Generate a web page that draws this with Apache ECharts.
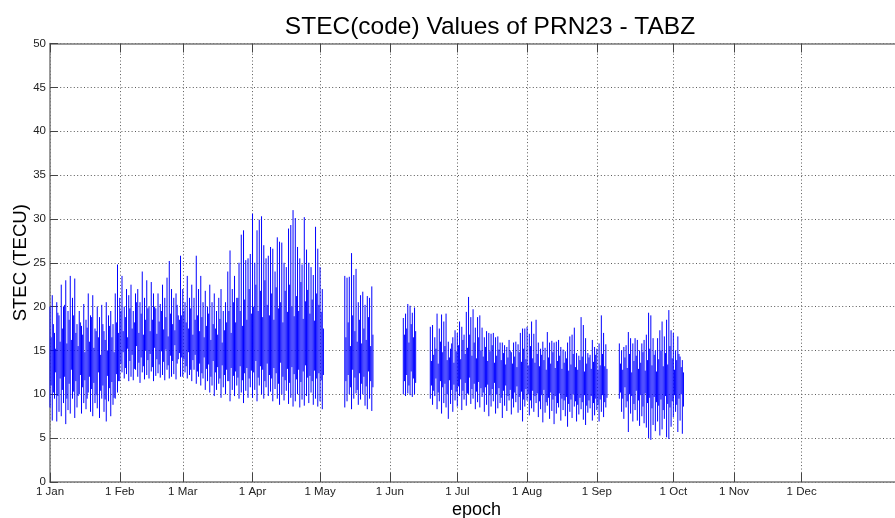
<!DOCTYPE html>
<html>
<head>
<meta charset="utf-8">
<script src="https://cdn.jsdelivr.net/npm/echarts@6/dist/echarts.min.js"></script>
<style>
html,body{margin:0;padding:0;background:#fff;}
#chart{width:895px;height:518px;}
</style>
</head>
<body>
<div id="chart"></div>
<script>
// Month tick positions (epoch, in days from 1 Jan) and labels
const tickEpochs = [0, 31, 59, 90, 120, 151, 181, 212, 243, 277, 304, 334];
const tickLabels = ['1 Jan','1 Feb','1 Mar','1 Apr','1 May','1 Jun','1 Jul','1 Aug','1 Sep','1 Oct','1 Nov','1 Dec'];
const yTicks = [0,5,10,15,20,25,30,35,40,45,50];

// Observation blocks: first day of each block
const blockStarts = [0, 131, 157, 169, 253];

// ---- Block 1: 1 Jan - 1 May (TECU) ----
// main daily pass: maximum / minimum
const highs1 = [
  20, 21.3, 17, 20.5, 19, 22.5, 20, 23, 19.5, 23.5, 21, 23.2, 18, 19.5, 17.8, 20.3, 18.5, 21.5, 19, 21.3,
  17.5, 20, 18.8, 20.2, 17.2, 20.5, 19, 19.5, 18, 21.5, 24.8,
  21, 23.5, 20, 22, 21.3, 22.5, 19.5, 21.5, 22, 20.5, 24, 21, 23, 20, 22.8, 21.5, 19.8, 21.5, 20.3, 22.5,
  21, 23.3, 25.2, 22, 21, 21.5, 19, 25.8,
  22, 20.5, 23.5, 21, 22.5, 21, 25.8, 22, 23.5, 20.5, 21.8, 20, 22.5, 20.5, 21.5, 19.5, 21, 22, 19.5, 20.5,
  24, 26.4, 22, 23.5, 21, 25, 28.2, 28.7, 25.3, 25.5, 26,
  30.6, 25, 28.7, 29.9, 30.3, 27, 25.5, 25.8, 26.8, 26.6, 24, 27.9, 27.4, 27.3, 25, 24.5, 28.9, 29.3, 31, 30.1,
  26.8, 25.5, 24.8, 30.2, 26.5, 25, 24.5, 23.6, 29.1, 26.6, 24.5, 22
];
const lows1 = [
  8.5, 7, 9.5, 6.9, 8, 7.5, 9, 6.6, 8.2, 7.8, 9.5, 7.3, 8.5, 10, 7.8, 9, 8.3, 10.2, 8, 7.5,
  9, 8.4, 7.3, 9.5, 8, 6.9, 9.2, 7.5, 8.8, 9.5, 10.2,
  11.5, 12.5, 11.8, 12.3, 11.5, 12, 11.6, 12.8, 12, 11.3, 12.5, 11.7, 12.2, 11.8, 12.6, 11.5, 12.1, 12.4, 11.9, 12.2,
  11.6, 12.8, 11.8, 12, 12.3, 11.7, 14, 12,
  12, 12.5, 11.8, 12.2, 11.5, 12.8, 11.2, 12, 11, 11.8, 10.5, 11.5, 10.2, 11, 9.8, 10.5, 11.2, 9.6, 10.8, 10,
  11.5, 9.2, 10.5, 9.8, 11, 9.5, 10.2, 9, 10.4, 9.6, 10.8,
  9.6, 10.5, 9.2, 11, 10, 9.5, 10.8, 9.8, 10.3, 9.2, 10.6, 9.5, 8.8, 10, 9.3, 10.4, 8.9, 9.6, 8.6, 9.2,
  10, 8.5, 9.4, 8.7, 9.8, 9, 10.2, 8.8, 9.5, 8.6, 9.2, 8.3
];
// secondary daily pass: maximum / minimum
const highs1b = [
  16.5, 18, 15.2, 19.3, 16, 17.5, 20.2, 15.8, 18.5, 16.2, 19, 17, 15.5, 18.2, 16.8, 14.8, 17.6, 16, 18.8, 15.3,
  17.2, 16.5, 14.5, 18, 16.2, 15, 17.8, 16.5, 14.8, 18.2, 17,
  19.5, 17.2, 18.8, 16.5, 19.8, 17.5, 18.2, 20.5, 17, 19.2, 16.8, 18.5, 19.8, 17.2, 18.5, 20, 16.9, 18.3, 19.5, 17.4,
  18.8, 16.6, 19.2, 18, 17.3, 20.2, 18.5, 19,
  19.5, 18.2, 17.5, 19.8, 16.8, 18.5, 19, 17.2, 18.8, 16.5, 17.8, 19.2, 16.2, 18, 17.5, 16.8, 18.6, 15.9, 17.3, 18.2,
  19.5, 17, 20.5, 18.2, 21, 19.5, 17.8, 20.8, 18.5, 22, 19.2,
  20, 22.5, 19.5, 21.8, 18.8, 23, 20.2, 19, 21.5, 18.5, 22.2, 19.8, 20.5, 18.2, 21.8, 19.4, 22.5, 20, 18.9, 21.2,
  19.5, 22.8, 18.6, 20.6, 21.9, 19.2, 20.8, 18.4, 21.5, 20.2, 19.4, 17.5
];
const lows1b = [
  11, 10.2, 12.5, 9.8, 11.8, 10.5, 12, 9.5, 11.2, 12.8, 10.3, 11.5, 9.8, 12.2, 10.8, 11.6, 9.5, 12, 10.6, 11.3,
  9.9, 12.5, 10.4, 11, 9.4, 12.1, 10.7, 11.4, 9.6, 12.3, 11.5,
  13.5, 14.8, 13, 15.2, 13.8, 14.5, 12.9, 15.5, 13.6, 14.2, 13.2, 15, 13.9, 14.6, 13.1, 15.3, 14, 13.4, 14.9, 13.7,
  15.1, 13.3, 14.4, 13.8, 15.6, 13.5, 14.7, 14.2,
  14, 13.2, 14.8, 12.8, 13.9, 14.5, 12.6, 13.5, 12.4, 14.2, 12.9, 13.4, 12, 13.8, 12.5, 13.1, 11.8, 13.3, 12.2, 12.8,
  11.5, 13, 12.1, 12.6, 11.9, 13.2, 11.6, 12.4, 13, 11.8, 12.7,
  12.5, 13.8, 11.9, 13.2, 12.8, 11.5, 13.5, 12.2, 11.8, 13, 12.4, 11.2, 13.6, 12, 11.6, 12.9, 11.3, 13.1, 12.3, 11.7,
  12.8, 11.4, 12.6, 13.3, 11.9, 12.1, 11.5, 12.7, 11.8, 12.4, 11.6, 12.2
];

// ---- Block 2: mid May ----
const highs2  = [23.5, 23.3, 23.4, 26.1, 23.6, 24.3, 20.5, 21.3, 21.7, 20.2, 21.2, 21, 22.3];
const lows2   = [8.5, 9.2, 10, 8.3, 9.5, 10.1, 8.8, 9.4, 10, 8.7, 8.3, 9.5, 8.1];
const highs2b = [16.5, 18.2, 15.5, 19, 17.2, 16, 18.5, 15.8, 17.5, 16.2, 18.8, 15.5, 16.8];
const lows2b  = [11.5, 12.2, 10.8, 12.8, 11.9, 10.5, 12.4, 11.2, 12, 10.9, 12.6, 11.5, 10.8];

// ---- Block 3: early June ----
const highs3  = [18.7, 19.2, 20.3, 20.1, 19.3, 19.9];
const lows3   = [10, 9.8, 10.1, 9.9, 9.7, 10];
const highs3b = [16.8, 17.5, 15.9, 18, 16.5, 17.2];
const lows3b  = [11.5, 12.2, 11, 12.6, 11.8, 11.3];

// ---- Block 4: mid June - early September ----
const highs4 = [
  17.7, 17.9, 16.5, 19.2, 17.5, 19.1, 18.3, 19.2, 16.0, 15.2, 16.5, 17.3,
  17.0, 18.3, 17.7, 16.8, 19.4, 21.1, 18.8, 19.7, 17.6, 18.8, 19.0, 17.6,
  16.5, 17.2, 17.0, 16.9, 17.0, 16.5, 16.6, 15.9, 15.9, 15.6, 15.4, 16.2,
  14.8, 15.9, 16.0, 15.7, 17.0, 17.5, 17.5, 17.7, 16.9, 18.3, 16.9, 18.5,
  15.9, 15.2, 16.0, 15.3, 17.1, 15.9, 16.1, 15.9, 16.0, 16.2, 15.4, 15.1,
  14.9, 15.9, 16.6, 16.8, 17.6, 14.7, 14.4, 18.8, 17.9, 16.4, 14.7, 14.5,
  16.2, 15.4, 15.2, 15.8, 19.0, 17.0, 15.7
];
const lows4 = [
  9.5, 8.8, 9.8, 8.3, 9.2, 7.8, 9.0, 8.5, 7.2, 8.9, 8.0, 9.3,
  8.6, 9.8, 8.2, 9.4, 8.7, 10.0, 8.9, 9.5, 8.3, 9.1, 8.5, 9.7,
  8.0, 8.8, 7.5, 8.6, 9.2, 7.8, 8.4, 9.0, 7.3, 8.7, 8.1, 9.3,
  7.7, 8.5, 9.1, 7.9, 8.2, 6.9, 8.6, 9.3, 7.6, 8.4, 8.0, 9.0,
  7.4, 8.3, 6.8, 7.9, 8.7, 7.2, 8.1, 6.6, 7.8, 8.5, 7.0, 8.2,
  7.5, 6.3, 8.0, 7.3, 8.6, 6.9, 7.7, 8.3, 7.1, 6.5, 7.9, 8.4,
  7.0, 7.6, 8.2, 6.9, 8.0, 7.4, 8.5
];
const highs4b = [
  13.8, 14.5, 15.2, 13.5, 16, 14.8, 15.5, 13.9, 14.2, 15.8, 13.6, 14.9,
  15.6, 14, 16.2, 14.6, 15.3, 16.8, 14.4, 15.9, 14.1, 16.5, 15, 14.3,
  15.4, 13.8, 14.9, 15.6, 13.6, 14.4, 15.1, 13.9, 14.7, 13.4, 14.2, 15,
  13.5, 14.3, 13.1, 14.8, 13.7, 15.2, 14, 13.3, 15.5, 14.1, 13.6, 14.6,
  13.2, 14.5, 13.9, 12.8, 14.2, 13.5, 14.8, 13, 13.8, 14.4, 12.9, 13.6,
  14.1, 12.7, 13.4, 14.6, 13.1, 12.8, 13.9, 14.3, 12.6, 13.5, 14.2, 12.9,
  13.7, 14.5, 12.8, 13.3, 14.6, 13.2, 12.9
];
const lows4b = [
  11, 10.4, 11.8, 10.2, 11.5, 10.8, 11.2, 10, 11.6, 10.5, 11.1, 10.3,
  10.9, 11.7, 10.4, 11.3, 10.1, 11.9, 10.6, 11.2, 10.3, 11.4, 10.7, 10.2,
  10.8, 11.1, 9.9, 10.6, 11.3, 10, 10.7, 9.6, 10.4, 11, 9.8, 10.5,
  9.5, 10.2, 10.9, 9.7, 10.3, 9.4, 10.6, 10, 9.3, 10.4, 9.8, 10.1,
  9.2, 9.9, 10.5, 9.1, 9.6, 10.2, 9.4, 9.8, 9, 10.1, 9.5, 9.3,
  9.7, 8.9, 9.4, 10, 9.2, 8.8, 9.6, 9.1, 9.9, 8.7, 9.3, 9.8,
  9, 9.5, 8.8, 9.4, 9.9, 9.1, 9.6
];

// ---- Block 5: mid September - early October ----
const highs5 = [
  15.8, 15.0, 15.4, 15.6, 17.1, 16.4, 15.8, 16.4, 16.2, 15.0,
  15.8, 16.2, 16.8, 19.3, 19.0, 16.4, 15.0, 16.4, 17.3, 18.3,
  16.6, 18.5, 19.6, 17.3, 17.0, 15.0, 16.6, 14.3, 13.9
];
const lows5 = [
  9.5, 8.0, 7.2, 8.5, 5.7, 7.8, 6.9, 8.2, 7.0, 6.4,
  7.5, 6.7, 6.2, 5.0, 4.8, 6.5, 5.8, 6.9, 5.3, 6.0,
  7.2, 5.1, 4.9, 6.3, 7.4, 8.0, 5.7, 7.0, 5.5
];
const highs5b = [
  13.5, 12.8, 14.2, 13, 14.6, 12.5, 13.8, 14.4, 12.9, 13.6,
  14.8, 12.7, 13.9, 15.2, 13.3, 14.5, 12.6, 14, 15, 13.2,
  14.7, 13.4, 15.5, 14.1, 12.8, 13.9, 14.6, 13.1, 12.5
];
const lows5b = [
  10.2, 9.5, 10.8, 9.2, 10, 9.8, 8.9, 10.4, 9.3, 9.9,
  8.6, 10.1, 9, 9.6, 8.4, 9.7, 9.1, 8.7, 9.4, 8.2,
  9.8, 8.9, 8.5, 9.2, 9.9, 8.8, 9.5, 10, 8.6
];

const blocks = [
  [highs1, lows1, highs1b, lows1b],
  [highs2, lows2, highs2b, lows2b],
  [highs3, lows3, highs3b, lows3b],
  [highs4, lows4, highs4b, lows4b],
  [highs5, lows5, highs5b, lows5b]
];
// each pass is drawn as one vertical stroke from its minimum to its maximum
const seriesData = [];
blocks.forEach(function (b, k) {
  const start = blockStarts[k];
  for (let i = 0; i < b[0].length; i++) {
    const d = start + i;
    seriesData.push([d, b[1][i]], [d, b[0][i]], [d + 0.2, null]);
    seriesData.push([d + 0.5, b[3][i]], [d + 0.5, b[2][i]], [d + 0.7, null]);
  }
});

const chart = echarts.init(document.getElementById('chart'), null, {renderer: 'canvas'});
const FONT = 'Liberation Sans, Arial, Helvetica, sans-serif';
const axisGray = '#7a7a7a';
const gridStyle = {color: '#5a5a5a', width: 1, type: [1, 2.4]};

chart.setOption({
  animation: false,
  backgroundColor: '#fff',
  title: {
    text: 'STEC(code) Values of PRN23 - TABZ',
    left: 485,
    textAlign: 'center',
    top: 10,
    textStyle: {fontFamily: FONT, fontSize: 24.5, fontWeight: 'normal', color: '#000'}
  },
  grid: {left: 50, right: 0, top: 43.5, bottom: 36, containLabel: false, outerBoundsMode: 'none'},
  xAxis: [{
    type: 'value',
    min: 0,
    max: 375.5,
    name: 'epoch',
    nameLocation: 'middle',
    nameGap: 19,
    nameMoveOverlap: false,
    nameTextStyle: {fontFamily: FONT, fontSize: 18, color: '#000', padding: [0, 0, 0, 8]},
    axisLine: {show: true, onZero: false, lineStyle: {color: axisGray, width: 1.5}},
    axisTick: {show: true, inside: true, length: 9, customValues: tickEpochs, lineStyle: {color: '#444', width: 1}},
    axisLabel: {
      show: true, customValues: tickEpochs, margin: 4,
      fontFamily: FONT, fontSize: 11.5, color: '#222',
      formatter: function (v) { const i = tickEpochs.indexOf(v); return i >= 0 ? tickLabels[i] : ''; }
    },
    splitLine: {show: true, lineStyle: gridStyle}
  }, {
    type: 'value',
    position: 'top',
    min: 0,
    max: 375.5,
    axisLine: {show: true, onZero: false, lineStyle: {color: axisGray, width: 1.5}},
    axisTick: {show: true, inside: true, length: 9, customValues: tickEpochs, lineStyle: {color: '#444', width: 1}},
    axisLabel: {show: false},
    splitLine: {show: false}
  }],
  yAxis: [{
    type: 'value',
    min: 0,
    max: 50,
    interval: 5,
    name: 'STEC (TECU)',
    nameLocation: 'middle',
    nameGap: 20,
    nameMoveOverlap: false,
    nameTextStyle: {fontFamily: FONT, fontSize: 18.5, color: '#000'},
    axisLine: {show: true, lineStyle: {color: axisGray, width: 1.5}},
    axisTick: {show: true, inside: true, length: 8, lineStyle: {color: '#444', width: 1}},
    axisLabel: {
      margin: 4, fontFamily: FONT, fontSize: 11.5, color: '#222',
      formatter: function (v) { return yTicks.indexOf(v) >= 0 ? String(v) : ''; }
    },
    splitLine: {show: true, lineStyle: gridStyle}
  }],
  series: [{
    type: 'line',
    data: seriesData,
    showSymbol: false,
    symbol: 'none',
    connectNulls: false,
    lineStyle: {color: '#0000ff', width: 1},
    itemStyle: {color: '#0000ff'},
    silent: true,
    z: 3
  }]
});
</script>
</body>
</html>
